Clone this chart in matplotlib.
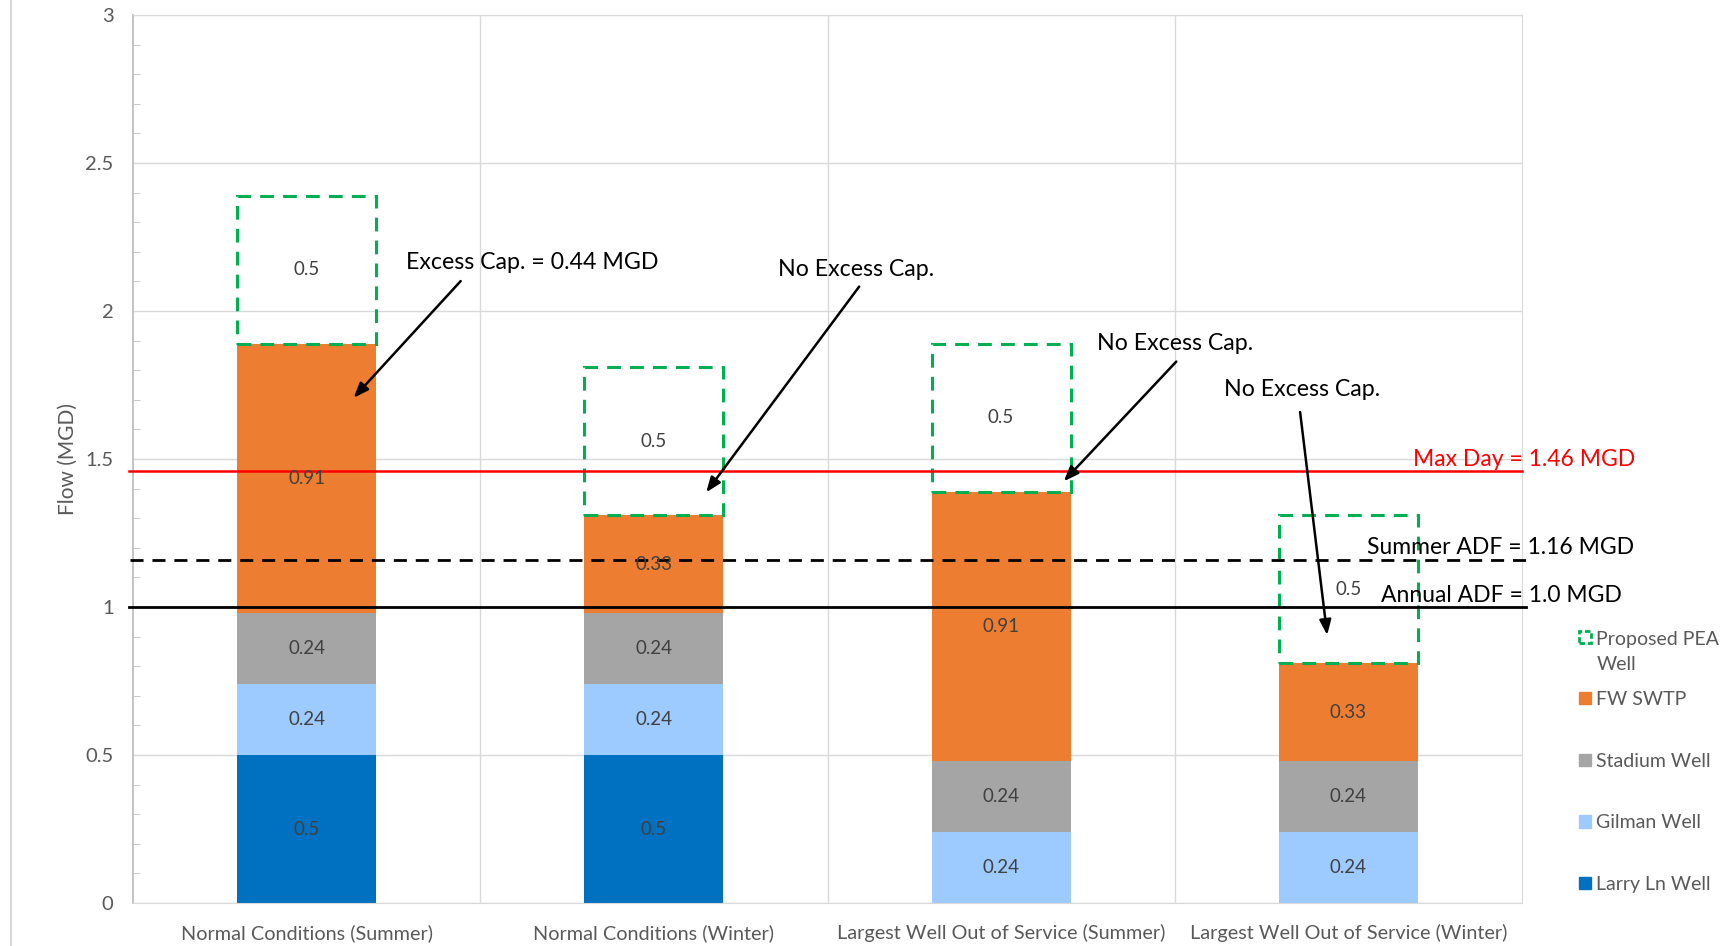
import numpy as np
import matplotlib
matplotlib.use("Agg")
from matplotlib import pyplot as plt
from matplotlib.patches import Patch
from matplotlib.lines import Line2D
from matplotlib.ticker import MultipleLocator

plt.rcParams['font.family'] = ['Lato', 'DejaVu Sans']

# data
scenarios = ["Normal Conditions (Summer)", "Normal Conditions (Winter)",
             "Largest Well Out of Service (Summer)", "Largest Well Out of Service (Winter)"]
larry_ln = [0.5, 0.5, 0, 0]
gilman = [0.24, 0.24, 0.24, 0.24]
stadium = [0.24, 0.24, 0.24, 0.24]
fw_swtp = [0.91, 0.33, 0.91, 0.33]
pea_well = [0.5, 0.5, 0.5, 0.5]

max_day = 1.46
summer_adf = 1.16
annual_adf = 1.0

notes = ["Excess Cap. = 0.44 MGD", "No Excess Cap.", "No Excess Cap.", "No Excess Cap."]

c_larry = "#0070C0"
c_gilman = "#9DCBFF"
c_stadium = "#A5A5A5"
c_fw = "#ED7D31"
c_pea = "#00B050"
txt_dark = "#404040"
txt_gray = "#595959"
grid_c = "#D9D9D9"

fig = plt.figure(figsize=(17.34, 9.46), dpi=100)
ax = fig.add_axes([133 / 1734, 43 / 946, 1389 / 1734, 888 / 946])

x = np.arange(len(scenarios))
w = 0.4

bottom = np.zeros(len(x))
series = [(larry_ln, c_larry, "Larry Ln Well"),
          (gilman, c_gilman, "Gilman Well"),
          (stadium, c_stadium, "Stadium Well"),
          (fw_swtp, c_fw, "FW SWTP")]
for vals, col, name in series:
    vals = np.array(vals, dtype=float)
    bars = ax.bar(x, vals, w, bottom=bottom, color=col, label=name, zorder=2)
    labels = ["" if v == 0 else f"{v:g}" for v in vals]
    ax.bar_label(bars, labels=labels, label_type="center", color=txt_dark, fontsize=13.5, zorder=5)
    bottom += vals

pea = ax.bar(x, pea_well, w, bottom=bottom, fill=False, edgecolor=c_pea,
             linewidth=2.2, linestyle=(0, (4.5, 3)), zorder=3)
ax.bar_label(pea, labels=[f"{v:g}" for v in pea_well], label_type="center",
             color=txt_dark, fontsize=13.5)

# reference lines
ax.axhline(max_day, xmin=-0.003, xmax=1.0, color="#FF0000", lw=1.8, zorder=4, clip_on=False)
ax.axhline(summer_adf, xmin=-0.002, xmax=1.006, color="black", lw=2.0,
           linestyle=(0, (4.7, 3.2)), zorder=4, clip_on=False)
ax.axhline(annual_adf, xmin=-0.003, xmax=1.003, color="black", lw=2.0, zorder=4, clip_on=False)

ax.text(3.505, 1.5, f"Max Day = {max_day} MGD", color="#FF0000", fontsize=16.5,
        ha="center", va="center", clip_on=False, zorder=6)
ax.text(3.438, 1.2, f"Summer ADF = {summer_adf} MGD", color="black", fontsize=16.5,
        ha="center", va="center", clip_on=False, zorder=6)
ax.text(3.44, 1.04, f"Annual ADF = {annual_adf} MGD", color="black", fontsize=16.5,
        ha="center", va="center", clip_on=False, zorder=6)

# callouts
text_pos = [(0.65, 2.165), (1.583, 2.139), (2.5, 1.889), (2.866, 1.736)]
arrow_from = [(0.449, 2.108), (1.596, 2.09), (2.51, 1.836), (2.86, 1.668)]
arrow_to = [(0.13, 1.70), (1.146, 1.38), (2.175, 1.418), (2.94, 0.896)]
for note, tp, a0, a1 in zip(notes, text_pos, arrow_from, arrow_to):
    ax.text(tp[0], tp[1], note, fontsize=16.7, color="black", ha="center", va="center", zorder=6)
    ax.annotate("", xy=a1, xytext=a0,
                arrowprops=dict(arrowstyle="-|>,head_length=0.9,head_width=0.35",
                                color="black", lw=1.8), zorder=6)

# axes styling
ax.set_xlim(-0.5, 3.5)
ax.set_ylim(0, 3)
ax.set_xticks(x)
ax.set_xticklabels(scenarios, fontsize=14.3, color=txt_gray)
ax.yaxis.set_major_locator(MultipleLocator(0.5))
ax.yaxis.set_minor_locator(MultipleLocator(0.1))
ax.set_yticks([0, 0.5, 1, 1.5, 2, 2.5, 3])
ax.set_yticklabels(["0", "0.5", "1", "1.5", "2", "2.5", "3"])
ax.tick_params(axis="y", which="major", length=0, pad=14, labelsize=14.5, labelcolor=txt_gray)
ax.tick_params(axis="y", which="minor", direction="in", length=5, color="#BFBFBF")
ax.tick_params(axis="x", which="both", length=0, pad=15)
ax.set_xticks([0.5, 1.5, 2.5], minor=True)
ax.grid(axis="y", which="major", color=grid_c, lw=1, zorder=0)
ax.grid(axis="x", which="minor", color=grid_c, lw=1, zorder=0)
for s in ["top", "right"]:
    ax.spines[s].set_color(grid_c)
ax.spines["left"].set_color("#BFBFBF")
ax.spines["bottom"].set_color(grid_c)
ax.spines["left"].set_linewidth(1.3)

ax.set_ylabel("Flow (MGD)", fontsize=15, color=txt_gray)
ax.yaxis.set_label_coords(-0.04, 0.5)

# left border line of chart area
fig.add_artist(Line2D([11 / 1734, 11 / 1734], [0, 1], color="#D9D9D9", lw=1.5))

# legends
h_pea = [Patch(facecolor="none", edgecolor=c_pea, linestyle=(0, (2, 1)), linewidth=2)]
leg1 = fig.legend(h_pea, ["Proposed PEA\nWell"], loc="upper left", bbox_to_anchor=(0.9106, 0.333),
                  frameon=False, fontsize=14, labelcolor=txt_gray, borderpad=0, borderaxespad=0,
                  handlelength=0.6, handleheight=0.6, handletextpad=0.3)
leg1.get_texts()[0].set_linespacing(1.55)
try:
    leg1._legend_handle_box.get_children()[0].get_children()[0].align = "top"
except Exception:
    pass
handles = [Patch(color=c) for c in [c_fw, c_stadium, c_gilman, c_larry]]
names = ["FW SWTP", "Stadium Well", "Gilman Well", "Larry Ln Well"]
leg2 = fig.legend(handles, names, loc="upper left", bbox_to_anchor=(0.9106, 0.2696),
                  frameon=False, fontsize=14, labelcolor=txt_gray, borderpad=0, borderaxespad=0,
                  handlelength=0.6, handleheight=0.6, handletextpad=0.3, labelspacing=2.3)

fig.savefig("out.png", dpi=100)
